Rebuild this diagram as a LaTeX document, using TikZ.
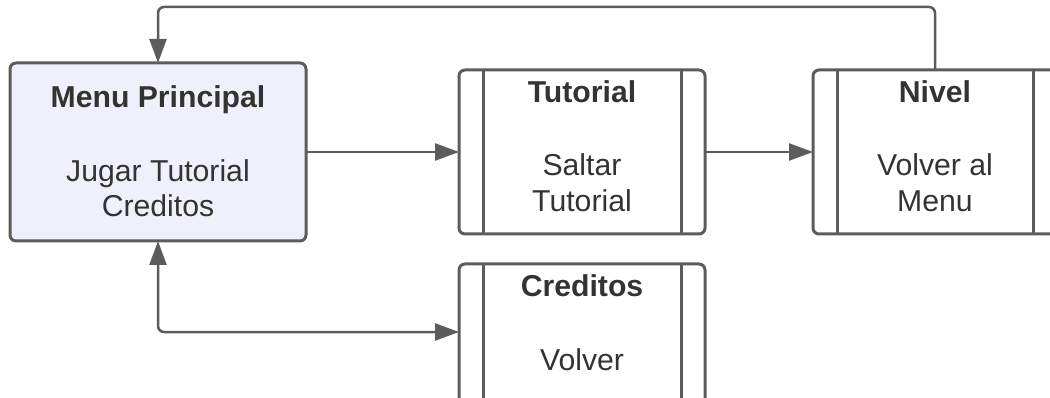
\documentclass[tikz,border=0pt]{standalone}
\usepackage{fontspec}
\setmainfont{Liberation Sans}
\usetikzlibrary{calc,arrows.meta}
\definecolor{lc}{HTML}{5C5C5C}
\definecolor{tc}{HTML}{333333}
\definecolor{mfill}{HTML}{F0F0FC}
\tikzset{
  box/.style={draw=lc, line width=3pt, rounded corners=6pt, minimum width=#1, minimum height=164pt, inner sep=0pt, outer sep=0pt},
  txt/.style={anchor=base, text=tc, inner sep=0pt, font=\fontsize{30.2}{36}\selectfont},
  ttl/.style={txt, font=\fontsize{30.2}{36}\selectfont\bfseries},
  conn/.style={draw=lc, line width=2.5pt, rounded corners=6pt},
  arr/.style={conn, -{Triangle[length=24pt,width=17pt]}},
  darr/.style={conn, {Triangle[length=24pt,width=17pt]}-{Triangle[length=24pt,width=17pt]}},
  inner/.style={draw=lc, line width=3pt}
}
\begin{document}
\begin{tikzpicture}[x=1pt,y=-1pt]
\useasboundingbox (0,0) rectangle (1050,398);
% boxes
\node[box=296pt, minimum height=178pt, fill=mfill] (menu) at (158,152) {};
\node[box=246pt] (tut) at (582,152) {};
\node[box=244pt] (niv) at (935,152) {};
\node[box=246pt] (cred) at (582,346) {};
% inner lines
\foreach \n in {tut,niv,cred}{
  \draw[inner] ($(\n.north west)+(24,0)$) -- ($(\n.south west)+(24,0)$);
  \draw[inner] ($(\n.north east)+(-24,0)$) -- ($(\n.south east)+(-24,0)$);
}
% texts
\node[ttl] (t1) at (158,108) {Menu Principal};
\node[txt] (t2) at (158,182) {Jugar Tutorial};
\node[txt] (t3) at (158,217) {Creditos};
\node[ttl] (t4) at (582,103) {Tutorial};
\node[txt] (t5) at (582,176) {Saltar};
\node[txt] (t6) at (582,212) {Tutorial};
\node[ttl] (t7) at (935,103) {Nivel};
\node[txt] (t8) at (935,176) {Volver al};
\node[txt] (t9) at (935,212) {Menu};
\node[ttl] (t10) at (582,297) {Creditos};
\node[txt] (t11) at (582,370) {Volver};
% connectors
\coordinate (top) at (0,7);
\coordinate (cb) at (0,332);
\draw[arr] (menu.east) -- (tut.west);
\draw[arr] (tut.east) -- (niv.west);
\draw[arr] (niv.north) -- (niv.north |- top) -- (menu.north |- top) -- (menu.north);
\draw[darr] (menu.south) -- (menu.south |- cb) -- (cred.west |- cb);
\end{tikzpicture}
\end{document}
